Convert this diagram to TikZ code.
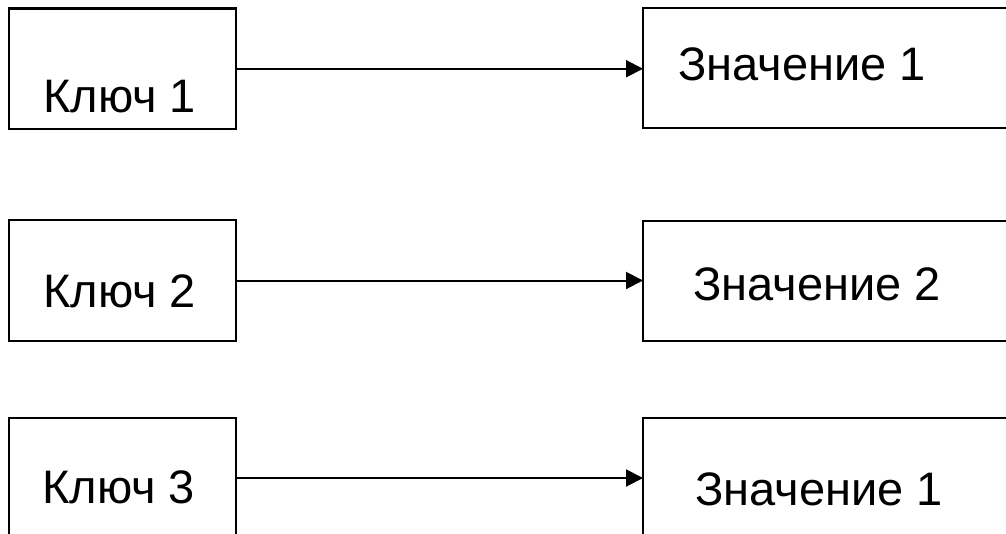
\documentclass[tikz,border=0pt]{standalone}
\usepackage{fontspec}
\setmainfont{Liberation Sans}
\usetikzlibrary{arrows.meta}
\begin{document}
\begin{tikzpicture}[x=1pt,y=1pt,
  box/.style={draw, line width=2.2pt, inner sep=0pt, outer sep=0pt},
  lbox/.style={box, minimum width=227pt, minimum height=120.5pt},
  rbox/.style={box, minimum width=407pt, minimum height=120pt},
  lbl/.style={anchor=base west, inner sep=0pt, font=\fontsize{47}{56}\selectfont},
  conn/.style={line width=2pt, -{Triangle[length=17pt,width=17pt]}}]
\useasboundingbox (0,0) rectangle (1006,-533);
\clip (0,0) rectangle (1006,-533);
% left boxes
\node[lbox] (l1) at (122.5,-68.75) {};
\node[lbox] (l2) at (122.5,-280.5) {};
\node[lbox] (l3) at (122.5,-478) {};
% right boxes
\node[rbox] (r1) at (846.5,-68.25) {};
\node[rbox] (r2) at (846.5,-281) {};
\node[rbox] (r3) at (846.5,-478) {};
% texts
\node[lbl] (k1) at (43,-112) {Ключ 1};
\node[lbl] (k2) at (43,-307) {Ключ 2};
\node[lbl] (k3) at (42,-503) {Ключ 3};
\node[lbl] (v1) at (678,-80) {Значение 1};
\node[lbl] (v2) at (693,-300) {Значение 2};
\node[lbl] (v3) at (695,-505) {Значение 1};
% connectors
\draw[conn] (l1.east) -- (l1.east -| r1.west);
\draw[conn] (l2.east) -- (l2.east -| r2.west);
\draw[conn] (l3.east) -- (l3.east -| r3.west);
\end{tikzpicture}
\end{document}
